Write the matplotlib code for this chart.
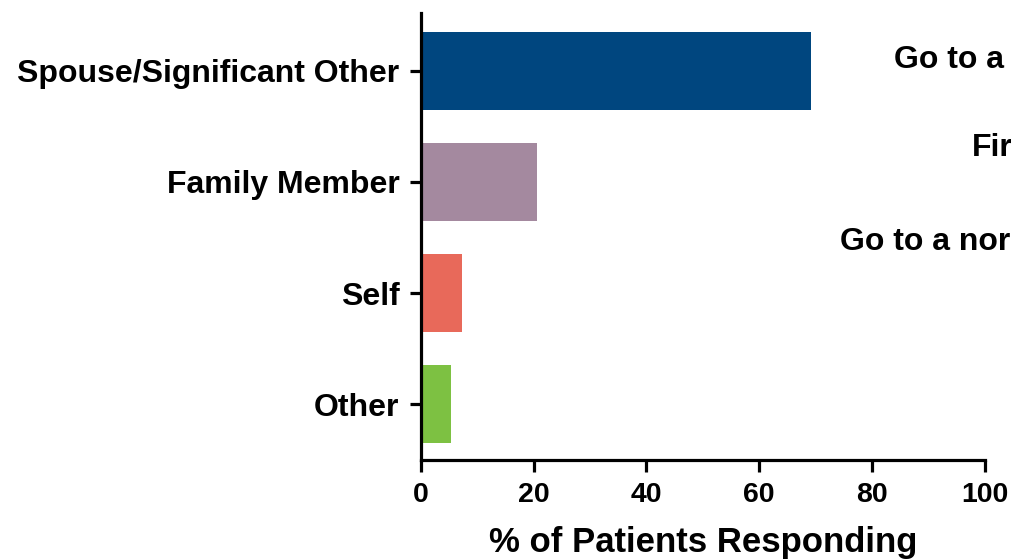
import matplotlib
matplotlib.use("Agg")
import matplotlib.pyplot as plt

categories = ["Spouse/Significant Other", "Family Member", "Self", "Other"]
values = [69.2, 20.5, 7.3, 5.3]
colors = ["#00467F", "#A4899F", "#E8695A", "#7DC142"]
xticks = [0, 20, 40, 60, 80, 100]
xlabel = "% of Patients Responding"
side_texts = ["Go to a", "Fir", "Go to a nor"]

plt.rcParams['font.family'] = ['Liberation Sans', 'DejaVu Sans']
plt.rcParams['font.weight'] = 'bold'

fig = plt.figure(figsize=(10.12, 5.59), dpi=100)
ax = fig.add_axes([0.416, 0.177, 0.557, 0.800])

ypos = list(range(len(categories)))
ax.barh(ypos, values, height=0.70, color=colors, edgecolor='none')
ax.set_ylim(3.5, -0.52)
ax.set_xlim(0, 100)
ax.set_xticks(xticks)
ax.set_xticklabels([str(t) for t in xticks], fontsize=20.5, fontweight='bold')
ax.set_yticks(ypos)
ax.set_yticklabels(categories, fontsize=23, fontweight='bold')
ax.set_xlabel(xlabel, fontsize=25, fontweight='bold', labelpad=13)

for s in ['top', 'right']:
    ax.spines[s].set_visible(False)
for s in ['left', 'bottom']:
    ax.spines[s].set_linewidth(2.3)
ax.tick_params(axis='y', width=2.3, length=8, direction='out', pad=7.5)
ax.tick_params(axis='x', width=2.3, length=8.5, direction='out', pad=7)

fs = 23
fig.text(894/1012, 1 - 60/559, side_texts[0], fontsize=fs, fontweight='bold', ha='left', va='center')
fig.text(972/1012, 1 - 148/559, side_texts[1], fontsize=fs, fontweight='bold', ha='left', va='center')
fig.text(840/1012, 1 - 242/559, side_texts[2], fontsize=fs, fontweight='bold', ha='left', va='center')

fig.savefig("out.png", dpi=100)
